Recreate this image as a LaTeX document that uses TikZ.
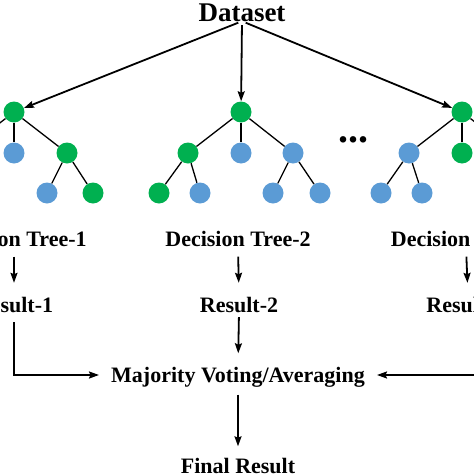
\documentclass[tikz,border=0pt]{standalone}
\usepackage{fontspec}
\setmainfont{Liberation Serif}
\usetikzlibrary{arrows.meta, positioning, calc}
\definecolor{leafgreen}{HTML}{00B050}
\definecolor{leafblue}{HTML}{5B9BD5}
\tikzset{
    gnode/.style={circle, fill=leafgreen, minimum size=21pt, inner sep=0pt},
    bnode/.style={circle, fill=leafblue, minimum size=21pt, inner sep=0pt},
    txt/.style={inner sep=0pt, text height=15pt, text depth=0pt, font=\fontsize{22}{26}\selectfont\bfseries},
    branch/.style={line width=1.3pt},
    arrow/.style={line width=1.8pt, -{Stealth[length=10pt, width=7pt, inset=1.5pt]}},
    flow/.style={arrow, shorten <=8pt, shorten >=12pt}
}
\begin{document}
\begin{tikzpicture}[x=1pt, y=-1pt]
        \useasboundingbox (0,0) rectangle (474,474);
        \clip (0,0) rectangle (474,474);

        % Dataset
        \node[txt, text height=18pt, font=\fontsize{27}{32}\selectfont\bfseries] (ds) at (242,12) {Dataset};

        % Tree 1
        \node[gnode] (t1a) at (14,112) {};
        \node[bnode] (t1x) at (-39,153) {};
        \node[bnode] (t1b) at (14,153) {};
        \node[gnode] (t1c) at (67,153) {};
        \node[bnode] (t1d) at (47,193) {};
        \node[gnode] (t1e) at (93,193) {};

        % Tree 2
        \node[gnode] (t2a) at (241,112) {};
        \node[gnode] (t2b) at (188,153) {};
        \node[bnode] (t2c) at (241,153) {};
        \node[bnode] (t2d) at (293,153) {};
        \node[gnode] (t2e) at (159,193) {};
        \node[bnode] (t2f) at (200,193) {};
        \node[bnode] (t2g) at (273,193) {};
        \node[bnode] (t2h) at (320,193) {};

        % Tree N
        \node[gnode] (t3a) at (462,112) {};
        \node[bnode] (t3b) at (409,153) {};
        \node[gnode] (t3c) at (462,153) {};
        \node[bnode] (t3x) at (515,153) {};
        \node[bnode] (t3d) at (381,193) {};
        \node[bnode] (t3e) at (422,193) {};

        \node[inner sep=0pt, font=\fontsize{40}{44}\selectfont\bfseries] (dots) at (353,140) {...};

        % Branches
        \foreach \p/\c in {t1a/t1x, t1a/t1b, t1a/t1c, t1c/t1d, t1c/t1e,
                           t2a/t2b, t2a/t2c, t2a/t2d, t2b/t2e, t2b/t2f, t2d/t2g, t2d/t2h,
                           t3a/t3b, t3a/t3c, t3a/t3x, t3b/t3d, t3b/t3e}
            \draw[branch] (\p) -- (\c);

        % Dataset arrows
        \draw[arrow, shorten <=4pt] (ds.south) -- (t1a);
        \draw[arrow, shorten <=4pt] (ds.south) -- (t2a);
        \draw[arrow, shorten <=4pt] (ds.south) -- (t3a);

        % Labels
        \node[txt] (n1) at (14,239) {Decision Tree-1};
        \node[txt] (n2) at (238,239) {Decision Tree-2};
        \node[txt] (n3) at (466,239) {Decision Tree-N};
        \node[txt] (r1) at (14,304.5) {Result-1};
        \node[txt] (r2) at (239,304.5) {Result-2};
        \node[txt] (r3) at (468,304.5) {Result-N};
        \node[txt] (mv) at (238,375) {Majority Voting/Averaging};
        \node[txt] (fr) at (238,466) {Final Result};

        % Flow arrows
        \draw[flow, shorten <=10pt, shorten >=14pt] (n1.south) -- (r1.north);
        \draw[flow, shorten <=10pt, shorten >=14pt] (n2.south) -- (r2.north);
        \draw[flow, shorten <=10pt, shorten >=14pt] (n3.south) -- (r3.north);
        \draw[flow, shorten <=5pt, shorten >=14pt] (r2.south) -- (mv.north);
        \draw[flow, shorten <=10pt] (r1.south) |- (mv.west);
        \draw[flow] ([xshift=30pt]r3.south) |- (mv.east);
        \draw[flow, shorten <=12pt] (mv.south) -- (fr.north);
    \end{tikzpicture}
\end{document}
